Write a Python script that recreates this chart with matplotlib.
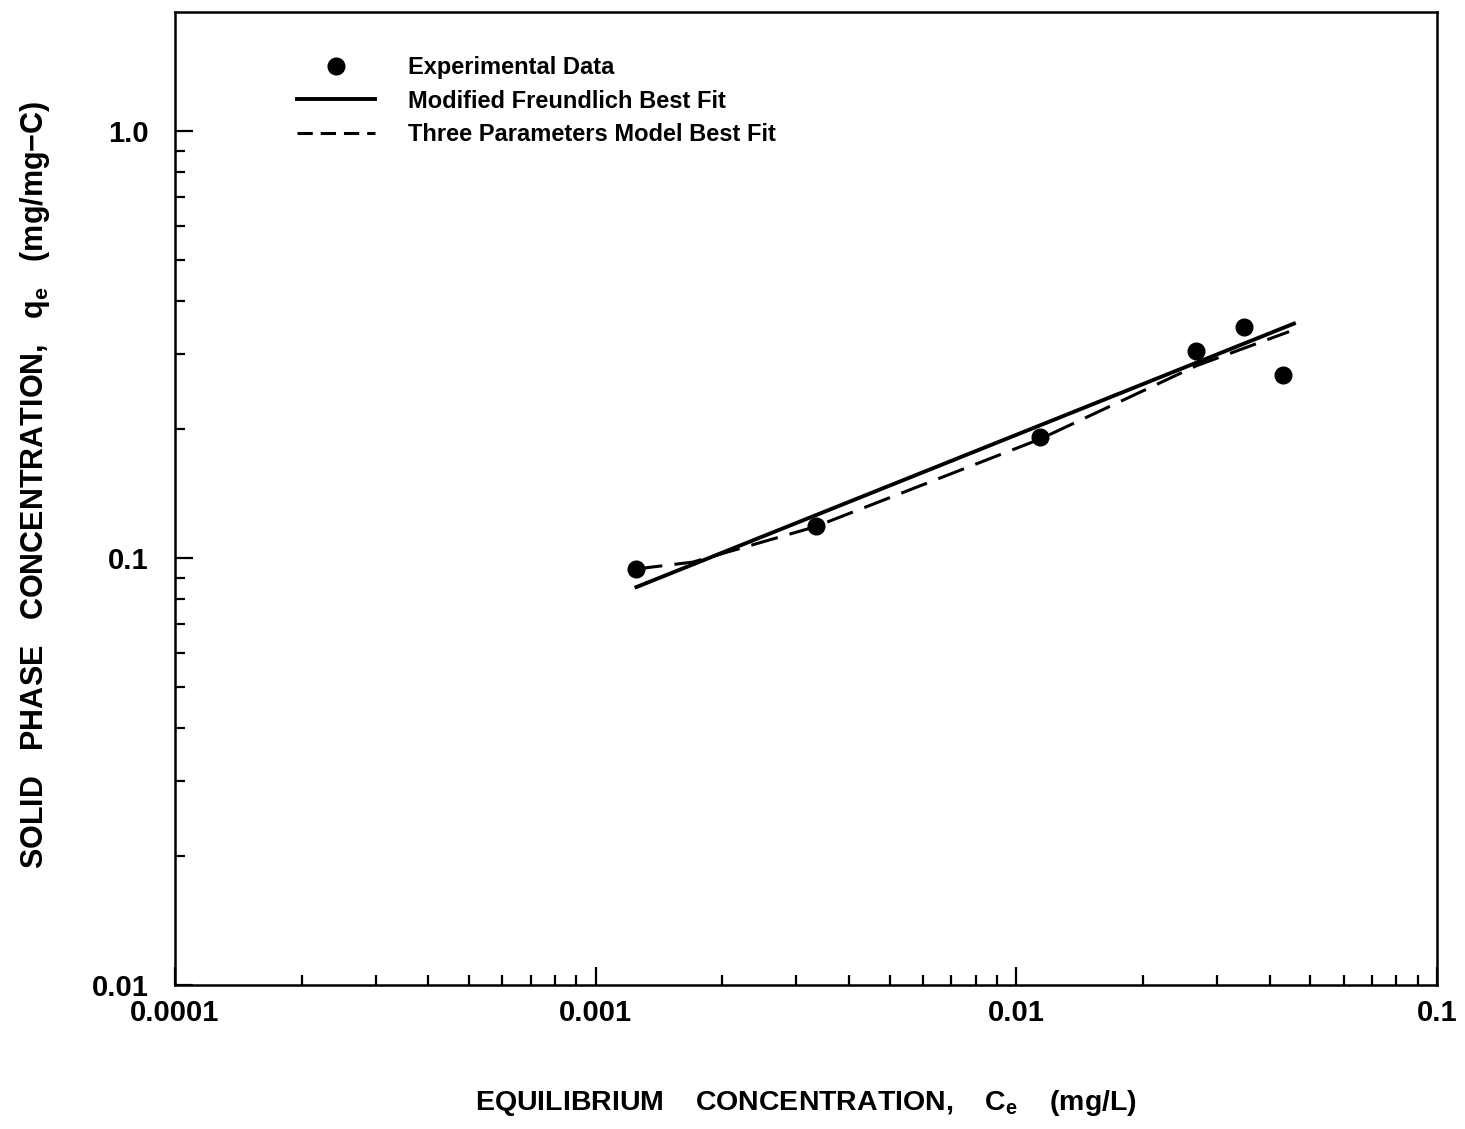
#!/usr/bin/env python3
# plot_isotherm.py

import matplotlib
matplotlib.use("Agg")
import matplotlib.pyplot as plt
from matplotlib.ticker import LogLocator, NullFormatter

# valeurs
ce_data = [0.00125, 0.00334, 0.0114, 0.0268, 0.0348, 0.0431]
qe_data = [0.0942, 0.119, 0.192, 0.306, 0.347, 0.269]

freundlich_ce = [0.00125, 0.0457]
freundlich_qe = [0.0855, 0.354]

three_param_ce = [0.00124, 0.00170, 0.00332, 0.0114, 0.0268, 0.0445]
three_param_qe = [0.0942, 0.0978, 0.1183, 0.190, 0.282, 0.339]

x_ticks = [0.0001, 0.001, 0.01, 0.1]
x_tick_labels = ["0.0001", "0.001", "0.01", "0.1"]
y_ticks = [0.01, 0.1, 1.0]
y_tick_labels = ["0.01", "0.1", "1.0"]

W, H = 1465, 1129


def plot():
    plt.rcParams['font.family'] = ['Liberation Sans', 'DejaVu Sans']
    plt.rcParams['font.weight'] = 'bold'
    plt.rcParams['mathtext.default'] = 'regular'

    fig = plt.figure(figsize=(W / 100, H / 100), dpi=100)
    ax = fig.add_axes([175 / W, 1 - 985 / H, (1437 - 175) / W, (985 - 12) / H])

    ax.plot(ce_data, qe_data, 'o', color='black', markersize=12,
            label='Experimental Data', zorder=3)
    ax.plot(freundlich_ce, freundlich_qe, '-', color='black', lw=2.8,
            label='Modified Freundlich Best Fit')
    ax.plot(three_param_ce, three_param_qe, color='black', lw=2.2,
            dashes=(9, 4), label='Three Parameters Model Best Fit')

    ax.set_xscale('log')
    ax.set_yscale('log')
    ax.set_xlim(0.0001, 0.1)
    ax.set_ylim(0.01, 1.9)

    ax.set_xticks(x_ticks)
    ax.set_xticklabels(x_tick_labels)
    ax.set_yticks(y_ticks)
    ax.set_yticklabels(y_tick_labels)
    for axis in (ax.xaxis, ax.yaxis):
        axis.set_minor_locator(LogLocator(base=10, subs=range(2, 10)))
        axis.set_minor_formatter(NullFormatter())

    ax.tick_params(which='both', direction='in', top=False, right=False,
                   width=1.6, labelsize=21)
    ax.tick_params(which='major', length=13)
    ax.tick_params(which='minor', length=7)
    ax.tick_params(axis='x', which='major', pad=10)
    ax.tick_params(axis='y', which='major', pad=19)
    for sp in ax.spines.values():
        sp.set_linewidth(1.8)

    leg = ax.legend(loc='upper left', bbox_to_anchor=(297 / W, 1 - 56 / H),
                    bbox_transform=fig.transFigure, frameon=False,
                    fontsize=17, handlelength=3.3, handletextpad=1.4,
                    labelspacing=0.45, borderpad=0, borderaxespad=0,
                    numpoints=1)
    for t in leg.get_texts():
        t.set_fontweight('bold')
    # tirets plus courts dans la légende
    leg.get_lines()[2].set_dashes((5, 2.6))

    fig.text(806 / W, 1 - 1103 / H,
             "EQUILIBRIUM    CONCENTRATION,    C$_e$    (mg/L)",
             ha='center', va='center', fontsize=20.5, fontweight='bold')
    fig.text(35 / W, 1 - 485 / H,
             "SOLID   PHASE   CONCENTRATION,   q$_e$   (mg/mg\u2212C)",
             ha='center', va='center', rotation=90, fontsize=22,
             fontweight='bold')

    fig.savefig("out.png", dpi=100, facecolor='white')


def main():
    plot()


if __name__ == "__main__":
    main()
